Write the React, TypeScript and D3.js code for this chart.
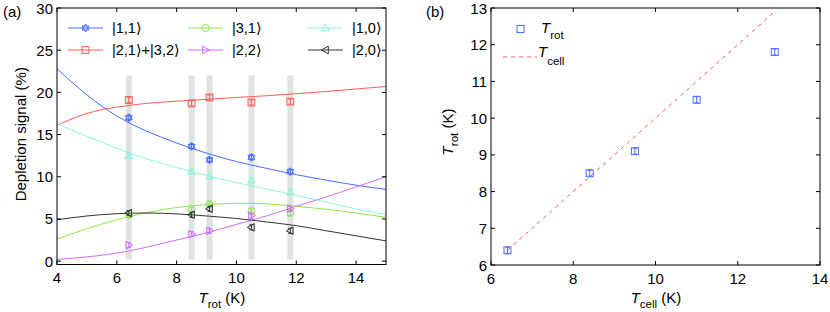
import React from "react";
import * as d3 from "d3";

// ---------- Panel (a) data ----------
const tRot = [6.4, 8.5, 9.1, 10.5, 11.8];
const pts11 = [17.0, 13.6, 12.0, 12.3, 10.6];
const pts2132 = [19.1, 18.7, 19.4, 18.8, 18.9];
const pts31 = [5.5, 6.1, 6.75, 5.9, 5.7];
const pts22 = [1.9, 3.2, 3.6, 5.4, 6.2];
const pts10 = [12.5, 10.6, 10.1, 9.6, 8.2];
const pts20 = [5.7, 5.5, 6.2, 4.0, 3.6];
const ptErr = [0.3, 0.3, 0.3, 0.3, 0.3];
const tRotErr = [0.1, 0.1, 0.1, 0.1, 0.1];
const bandLow = 0.2;
const bandHigh = 22;

const fitT = [4, 5, 6, 7, 8, 9, 10, 11, 12, 13, 14, 15];
const fit11 = [22.8, 19.7, 17.2, 15.4, 14.0, 12.8, 11.8, 11.0, 10.25, 9.6, 9.0, 8.5];
const fit2132 = [16.1, 17.5, 18.25, 18.7, 18.95, 19.18, 19.4, 19.6, 19.85, 20.1, 20.4, 20.7];
const fit31 = [2.6, 3.85, 4.9, 5.75, 6.35, 6.7, 6.85, 6.8, 6.5, 6.15, 5.7, 5.2];
const fit22 = [0.2, 0.5, 0.95, 1.65, 2.5, 3.35, 4.35, 5.35, 6.5, 7.6, 8.8, 10.0];
const fit10 = [16.3, 14.8, 13.4, 12.1, 11.1, 10.15, 9.3, 8.55, 7.8, 7.0, 6.2, 5.5];
const fit20 = [4.9, 5.35, 5.62, 5.7, 5.6, 5.35, 5.05, 4.65, 4.2, 3.6, 3.0, 2.4];

const xTicksA = [4, 6, 8, 10, 12, 14];
const yTicksA = [0, 5, 10, 15, 20, 25, 30];

const labels = ["|1,1\u27E9", "|2,1\u27E9+|3,2\u27E9", "|3,1\u27E9", "|2,2\u27E9", "|1,0\u27E9", "|2,0\u27E9"];

// ---------- Panel (b) data ----------
const tCell = [6.4, 8.4, 9.5, 11.0, 12.9];
const tRotB = [6.4, 8.5, 9.1, 10.5, 11.8];
const tRotBErr = [0.08, 0.08, 0.08, 0.08, 0.08];
const idLine = [6.4, 12.9];
const xTicksB = [6, 8, 10, 12, 14];
const yTicksB = [6, 7, 8, 9, 10, 11, 12, 13];

const FONT = "'Liberation Sans', Arial, 'DejaVu Sans', sans-serif";
const FS = 15;

type Marker = "hex" | "square" | "circle" | "triUp" | "triRight" | "triLeft";

function markerPath(kind: Marker, r: number): string | null {
  if (kind === "hex") {
    const tri = (off: number) => {
      const p: string[] = [];
      for (let i = 0; i < 3; i++) {
        const a = off + (2 * Math.PI / 3) * i;
        p.push(`${(r * Math.cos(a)).toFixed(2)},${(r * Math.sin(a)).toFixed(2)}`);
      }
      return "M" + p.join("L") + "Z";
    };
    return tri(-Math.PI / 2) + tri(Math.PI / 2);
  }
  if (kind === "triUp") return `M0,${-r}L${r * 0.95},${r * 0.7}L${-r * 0.95},${r * 0.7}Z`;
  if (kind === "triRight") return `M${r},0L${-r * 0.7},${r * 0.95}L${-r * 0.7},${-r * 0.95}Z`;
  if (kind === "triLeft") return `M${-r},0L${r * 0.7},${r * 0.95}L${r * 0.7},${-r * 0.95}Z`;
  return null;
}

function MarkerShape({ kind, x, y, color, r = 4 }: { kind: Marker; x: number; y: number; color: string; r?: number }) {
  if (kind === "square")
    return <rect x={x - r * 0.85} y={y - r * 0.85} width={r * 1.7} height={r * 1.7} fill="none" stroke={color} strokeWidth={1} />;
  if (kind === "circle") return <circle cx={x} cy={y} r={r * 0.9} fill="none" stroke={color} strokeWidth={1} />;
  return <path d={markerPath(kind, r) as string} transform={`translate(${x},${y})`} fill="none" stroke={color} strokeWidth={1} />;
}

const series = [
  { label: labels[0], fit: fit11, pts: pts11, color: "#4a6cff", marker: "hex" as Marker },
  { label: labels[1], fit: fit2132, pts: pts2132, color: "#ff5a5a", marker: "square" as Marker },
  { label: labels[2], fit: fit31, pts: pts31, color: "#8fe64a", marker: "circle" as Marker },
  { label: labels[3], fit: fit22, pts: pts22, color: "#d36bff", marker: "triRight" as Marker },
  { label: labels[4], fit: fit10, pts: pts10, color: "#8ff5de", marker: "triUp" as Marker },
  { label: labels[5], fit: fit20, pts: pts20, color: "#333333", marker: "triLeft" as Marker },
];

function PanelA() {
  const L = 57, R = 386, T = 8, B = 264.5;
  const x = d3.scaleLinear().domain([4, 15]).range([L, R]);
  const y = d3.scaleLinear().domain([-0.4, 30]).range([B, T]);
  const line = d3
    .line<number>()
    .x((_, i) => x(fitT[i]))
    .y((d) => y(d))
    .curve(d3.curveNatural);
  const tick = 4;
  const legendCols = [
    { lx: 68, items: [0, 1] },
    { lx: 188, items: [2, 3] },
    { lx: 308, items: [4, 5] },
  ];
  const legendRows = [28, 50];
  return (
    <g fontFamily={FONT}>
      <defs>
        <clipPath id="clipA">
          <rect x={L} y={T} width={R - L} height={B - T} />
        </clipPath>
      </defs>
      {tRot.map((t, i) => (
        <rect
          key={"band" + i}
          x={x(t - tRotErr[i])}
          width={x(t + tRotErr[i]) - x(t - tRotErr[i])}
          y={y(bandHigh)}
          height={y(bandLow) - y(bandHigh)}
          fill="#dfe3e1"
        />
      ))}
      <g clipPath="url(#clipA)">
        {series.map((s, k) => (
          <path key={"fit" + k} d={line(s.fit) as string} fill="none" stroke={s.color} strokeWidth={1} />
        ))}
      </g>
      {series.map((s, k) => (
        <g key={"pts" + k}>
          {s.pts.map((v, i) => (
            <g key={i}>
              <line x1={x(tRot[i])} x2={x(tRot[i])} y1={y(v - ptErr[i])} y2={y(v + ptErr[i])} stroke={s.color} strokeWidth={1} />
              <line x1={x(tRot[i]) - 2} x2={x(tRot[i]) + 2} y1={y(v - ptErr[i])} y2={y(v - ptErr[i])} stroke={s.color} strokeWidth={1} />
              <line x1={x(tRot[i]) - 2} x2={x(tRot[i]) + 2} y1={y(v + ptErr[i])} y2={y(v + ptErr[i])} stroke={s.color} strokeWidth={1} />
              <MarkerShape kind={s.marker} x={x(tRot[i])} y={y(v)} color={s.color} />
            </g>
          ))}
        </g>
      ))}
      {legendCols.map((c, ci) =>
        c.items.map((si, ri) => {
          const s = series[si];
          const yy = legendRows[ri];
          return (
            <g key={"leg" + ci + ri}>
              <line x1={c.lx} x2={c.lx + 35} y1={yy} y2={yy} stroke={s.color} strokeWidth={1} />
              <MarkerShape kind={s.marker} x={c.lx + 17.5} y={yy} color={s.color} />
              <text x={c.lx + 44} y={yy + 5} fontSize={14.5} fill="#000">
                {s.label}
              </text>
            </g>
          );
        })
      )}
      <rect x={L} y={T} width={R - L} height={B - T} fill="none" stroke="#000" strokeWidth={1} />
      {xTicksA.map((t) => (
        <g key={"xt" + t}>
          <line x1={x(t)} x2={x(t)} y1={B} y2={B - tick} stroke="#000" />
          <line x1={x(t)} x2={x(t)} y1={T} y2={T + tick} stroke="#000" />
          <text x={x(t)} y={B + 18.5} fontSize={FS} textAnchor="middle">
            {t}
          </text>
        </g>
      ))}
      {yTicksA.map((t) => (
        <g key={"yt" + t}>
          <line x1={L} x2={L + tick} y1={y(t)} y2={y(t)} stroke="#000" />
          <line x1={R} x2={R - tick} y1={y(t)} y2={y(t)} stroke="#000" />
          <text x={L - 4} y={y(t) + 5.5} fontSize={FS} textAnchor="end">
            {t}
          </text>
        </g>
      ))}
      <text x={20} y={(T + B) / 2 - 2} fontSize={FS} textAnchor="middle" dominantBaseline="central" transform={`rotate(-90, 20, ${(T + B) / 2 - 2})`}>
        Depletion signal (%)
      </text>
      <text x={222} y={303} fontSize={FS} textAnchor="middle">
        <tspan fontStyle="italic">T</tspan>
        <tspan fontSize={11.5} dy={5}>rot</tspan>
        <tspan dy={-5}> (K)</tspan>
      </text>
      <text x={3} y={17} fontSize={FS}>
        (a)
      </text>
    </g>
  );
}

function PanelB() {
  const L = 491, R = 820, T = 8, B = 265;
  const x = d3.scaleLinear().domain([6, 14]).range([L, R]);
  const y = d3.scaleLinear().domain([6, 13]).range([B, T]);
  const tick = 4;
  const blue = "#4a6cff";
  const red = "#ff5a5a";
  return (
    <g fontFamily={FONT}>
      <defs>
        <clipPath id="clipB">
          <rect x={L} y={T} width={R - L} height={B - T} />
        </clipPath>
      </defs>
      <line
        clipPath="url(#clipB)"
        x1={x(idLine[0])}
        y1={y(idLine[0])}
        x2={x(idLine[1])}
        y2={y(idLine[1])}
        stroke={red}
        strokeWidth={1}
        strokeDasharray="4,4"
      />
      {tCell.map((c, i) => {
        const cx = x(c), cy = y(tRotB[i]);
        const e = tRotBErr[i];
        return (
          <g key={"pb" + i}>
            <line x1={cx} x2={cx} y1={y(tRotB[i] - e)} y2={y(tRotB[i] + e)} stroke={blue} />
            <line x1={cx - 2} x2={cx + 2} y1={y(tRotB[i] - e)} y2={y(tRotB[i] - e)} stroke={blue} />
            <line x1={cx - 2} x2={cx + 2} y1={y(tRotB[i] + e)} y2={y(tRotB[i] + e)} stroke={blue} />
            <rect x={cx - 3.5} y={cy - 3.5} width={7} height={7} fill="none" stroke={blue} />
          </g>
        );
      })}
      <rect x={517} y={25.5} width={7} height={7} fill="none" stroke={blue} />
      <text x={541} y={33} fontSize={FS}>
        <tspan fontStyle="italic">T</tspan>
        <tspan fontSize={11.5} dy={6}>rot</tspan>
      </text>
      <line x1={503} x2={537} y1={57} y2={57} stroke={red} strokeDasharray="4,4" />
      <text x={538} y={57} fontSize={FS}>
        <tspan fontStyle="italic">T</tspan>
        <tspan fontSize={11.5} dy={8}>cell</tspan>
      </text>
      <rect x={L} y={T} width={R - L} height={B - T} fill="none" stroke="#000" />
      {xTicksB.map((t) => (
        <g key={"xb" + t}>
          <line x1={x(t)} x2={x(t)} y1={B} y2={B - tick} stroke="#000" />
          <line x1={x(t)} x2={x(t)} y1={T} y2={T + tick} stroke="#000" />
          <text x={x(t)} y={B + 18.5} fontSize={FS} textAnchor="middle">
            {t}
          </text>
        </g>
      ))}
      {yTicksB.map((t) => (
        <g key={"yb" + t}>
          <line x1={L} x2={L + tick} y1={y(t)} y2={y(t)} stroke="#000" />
          <line x1={R} x2={R - tick} y1={y(t)} y2={y(t)} stroke="#000" />
          <text x={L - 4} y={y(t) + 5.5} fontSize={FS} textAnchor="end">
            {t}
          </text>
        </g>
      ))}
      <text transform="translate(453,132) rotate(-90)" fontSize={FS} textAnchor="middle">
        <tspan fontStyle="italic">T</tspan>
        <tspan fontSize={11.5} dy={5}>rot</tspan>
        <tspan dy={-5}> (K)</tspan>
      </text>
      <text x={656} y={303} fontSize={FS} textAnchor="middle">
        <tspan fontStyle="italic">T</tspan>
        <tspan fontSize={11.5} dy={5}>cell</tspan>
        <tspan dy={-5}> (K)</tspan>
      </text>
      <text x={426} y={17} fontSize={FS}>
        (b)
      </text>
    </g>
  );
}

export default function App() {
  return (
    <svg
      width={830}
      height={312}
      style={{ position: "absolute", left: 0, top: 0, background: "#fff" }}
    >
      <rect width={830} height={312} fill="#fff" />
      <PanelA />
      <PanelB />
    </svg>
  );
}
